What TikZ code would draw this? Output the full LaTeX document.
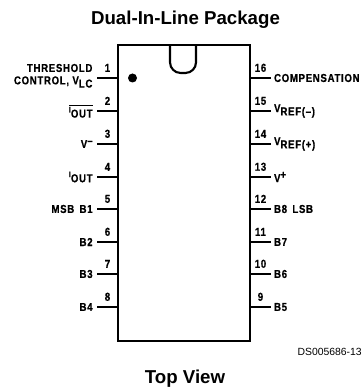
\documentclass[tikz,border=0pt]{standalone}
\usepackage{fontspec}
\setmainfont{Liberation Sans}
\newfontfamily\pinfont[FakeStretch=0.84,LetterSpace=6,FakeBold=0.6]{Liberation Sans Bold}
\newcommand{\lowered}[1]{\raisebox{-2.4pt}{#1}}
\newcommand{\raised}[1]{\raisebox{2.6pt}{#1}}
\newcommand{\smalli}{\raisebox{1.4pt}{\fontsize{6}{6}\selectfont I}}
\tikzset{
  chipbody/.style={draw, line width=1.9pt, inner sep=0pt, outer sep=0pt, minimum width=99pt, minimum height=222pt},
  pinline/.style={line width=1.6pt},
  pinlabel/.style={font=\pinfont\fontsize{8.6}{11}\selectfont, inner sep=1.5pt},
  leftlabel/.style={pinlabel, anchor=east, inner xsep=2.5pt},
  rightlabel/.style={pinlabel, anchor=west},
  pinnum/.style={font=\pinfont\fontsize{8.6}{9}\selectfont, inner sep=1pt, above=2.8pt},
  heading/.style={font=\fontsize{14}{16}\selectfont\bfseries}
}
\begin{document}
\begin{tikzpicture}[x=0.75pt,y=-0.75pt]
  \useasboundingbox (0,0) rectangle (362,391);
  \node [heading] (title) at (185.5,19.5) {Dual-In-Line Package};
  \node [heading] (view) at (185,379) {Top View};
  \node [font=\fontsize{7.8}{9}\selectfont, anchor=east, inner sep=0pt] (dsnum) at (362,352) {DS005686-13};
  \node [chipbody] (chip) at (184,193) {};
  \draw [line width=1.6pt, rounded corners=8pt] (170,45) -- (170,73) -- (196,73) -- (196,45);
  \fill (132.5,78) circle (4.5) node (dot) {};
  % left side
  \coordinate (a1) at (118,78); \coordinate (b1) at (97,78);
  \coordinate (a2) at (118,111); \coordinate (b2) at (97,111);
  \coordinate (a3) at (118,144); \coordinate (b3) at (97,144);
  \coordinate (a4) at (118,177); \coordinate (b4) at (97,177);
  \coordinate (a5) at (118,209); \coordinate (b5) at (97,209);
  \coordinate (a6) at (118,242); \coordinate (b6) at (97,242);
  \coordinate (a7) at (118,274); \coordinate (b7) at (97,274);
  \coordinate (a8) at (118,307); \coordinate (b8) at (97,307);
  \draw [pinline] (a1) -- (b1) node [midway,pinnum] (n1) {1};
  \draw [pinline] (a2) -- (b2) node [midway,pinnum] (n2) {2} node [at end,leftlabel] (t2) {$\overline{\hbox{\smalli\lowered{OUT}}}$};
  \draw [pinline] (a3) -- (b3) node [midway,pinnum] (n3) {3} node [at end,leftlabel] (t3) {V\raised{–}};
  \draw [pinline] (a4) -- (b4) node [midway,pinnum] (n4) {4} node [at end,leftlabel] (t4) {\smalli\lowered{OUT}};
  \draw [pinline] (a5) -- (b5) node [midway,pinnum] (n5) {5} node [at end,leftlabel] (t5) {MSB\hspace{4pt}B1};
  \draw [pinline] (a6) -- (b6) node [midway,pinnum] (n6) {6} node [at end,leftlabel] (t6) {B2};
  \draw [pinline] (a7) -- (b7) node [midway,pinnum] (n7) {7} node [at end,leftlabel] (t7) {B3};
  \draw [pinline] (a8) -- (b8) node [midway,pinnum] (n8) {8} node [at end,leftlabel] (t8) {B4};
  \node [leftlabel] (t1a) at (96,68) {THRESHOLD};
  \node [leftlabel] (t1b) at (96,82) {CONTROL, V\lowered{LC}};
  % right side
  \coordinate (a16) at (250,78); \coordinate (b16) at (271,78);
  \coordinate (a15) at (250,111); \coordinate (b15) at (271,111);
  \coordinate (a14) at (250,144); \coordinate (b14) at (271,144);
  \coordinate (a13) at (250,177); \coordinate (b13) at (271,177);
  \coordinate (a12) at (250,209); \coordinate (b12) at (271,209);
  \coordinate (a11) at (250,242); \coordinate (b11) at (271,242);
  \coordinate (a10) at (250,274); \coordinate (b10) at (271,274);
  \coordinate (a9) at (250,307); \coordinate (b9) at (271,307);
  \draw [pinline] (a16) -- (b16) node [midway,pinnum] (n16) {16} node [at end,rightlabel] (t16) {COMPENSATION};
  \draw [pinline] (a15) -- (b15) node [midway,pinnum] (n15) {15} node [at end,rightlabel] (t15) {V\lowered{REF(–)}};
  \draw [pinline] (a14) -- (b14) node [midway,pinnum] (n14) {14} node [at end,rightlabel] (t14) {V\lowered{REF(+)}};
  \draw [pinline] (a13) -- (b13) node [midway,pinnum] (n13) {13} node [at end,rightlabel] (t13) {V\raised{+}};
  \draw [pinline] (a12) -- (b12) node [midway,pinnum] (n12) {12} node [at end,rightlabel] (t12) {B8\hspace{4pt}LSB};
  \draw [pinline] (a11) -- (b11) node [midway,pinnum] (n11) {11} node [at end,rightlabel] (t11) {B7};
  \draw [pinline] (a10) -- (b10) node [midway,pinnum] (n10) {10} node [at end,rightlabel] (t10) {B6};
  \draw [pinline] (a9) -- (b9) node [midway,pinnum] (n9) {9} node [at end,rightlabel] (t9) {B5};
\end{tikzpicture}
\end{document}
